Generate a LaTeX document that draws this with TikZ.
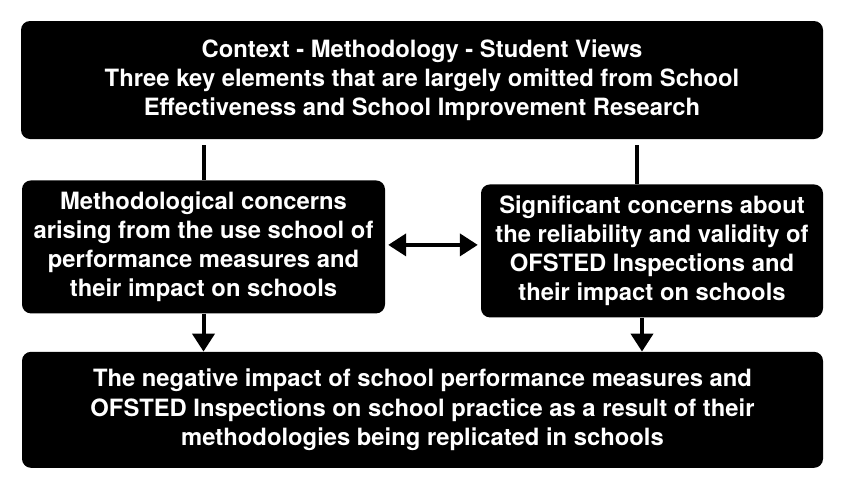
\documentclass[tikz,border=0pt]{standalone}
\usepackage{fontspec}
\setmainfont{TeX Gyre Heros}
\usetikzlibrary{arrows.meta, positioning}

\begin{document}
\begin{tikzpicture}[x=1pt,y=-1pt,
    block/.style={fill=black, text=white, rounded corners=9pt, inner sep=0pt,
        align=center, font=\fontsize{23.8}{29.2}\selectfont\bfseries},
    link/.style={line width=4pt},
    arrow/.style={line width=4pt, -{Triangle[width=22pt,length=18pt]}}]

        \useasboundingbox (0,0) rectangle (844,488);

        \node[block, minimum width=802pt, minimum height=118pt] (top) at (422,80)
            {Context - Methodology - Student Views\\
             Three key elements that are largely omitted from School\\
             Effectiveness and School Improvement Research};
        \node[block, minimum width=363pt, minimum height=133pt]
            (left) [below right=41pt and 1pt of top.south west]
            {Methodological concerns\\ arising from the use school of\\
             performance measures and\\ their impact on schools};
        \node[block, minimum width=342pt, minimum height=133pt]
            (right) [below left=45pt and 0pt of top.south east]
            {Significant concerns about\\ the reliability and validity of\\
             OFSTED Inspections and\\ their impact on schools};
        \node[block, minimum width=801pt, minimum height=116pt]
            (bottom) [below right=38pt and 0pt of left.south west]
            {The negative impact of school performance measures and\\
             OFSTED Inspections on school practice as a result of their\\
             methodologies being replicated in schools};

        \draw[link, shorten <=6pt] (left.north |- top.south) -- (left.north);
        \draw[link, shorten <=6pt] ([xshift=-15pt]right.north |- top.south) -- ([xshift=-15pt]right.north);
        \draw[arrow, {Triangle[width=22pt,length=18pt]}-{Triangle[width=22pt,length=18pt]}, shorten <=3pt, shorten >=3pt]
            ([yshift=2pt]left.east) -- ([yshift=2pt]left.east -| right.west);
        \draw[arrow] (left.south) -- (left.south |- bottom.north);
        \draw[arrow] ([xshift=-10pt]right.south) -- ([xshift=-10pt]right.south |- bottom.north);
    \end{tikzpicture}
\end{document}
